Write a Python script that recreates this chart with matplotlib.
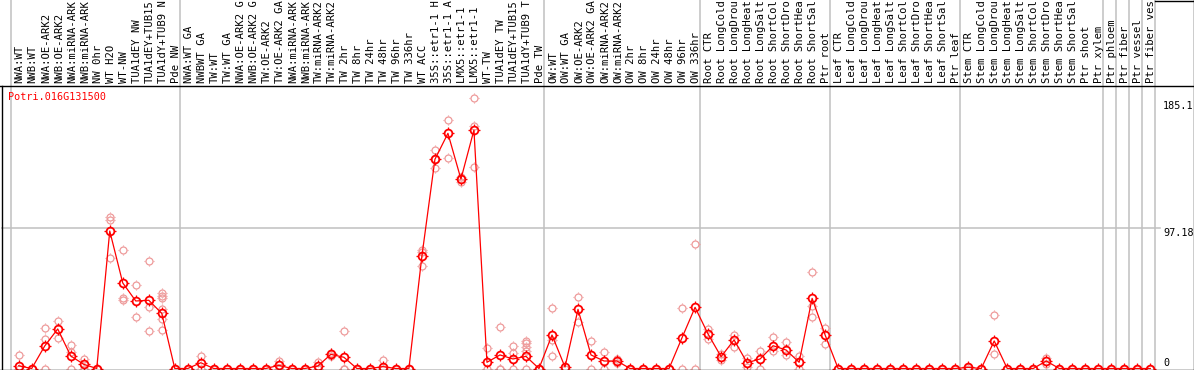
#!/usr/bin/env python3

import matplotlib
matplotlib.use("Agg")
import matplotlib.pyplot as plt
import matplotlib.transforms as mtransforms
from matplotlib.path import Path
from matplotlib.lines import Line2D

W, H = 1194, 370

# sample labels, one per column
labels = [
    "NWA:WT", "NWB:WT", "NWA:OE-ARK2", "NWB:OE-ARK2", "NWA:miRNA-ARK2",
    "NWB:miRNA-ARK2", "NW 0hr", "WT H2O", "WT-NW", "TUA1dEY NW",
    "TUA1dEY+TUB15 NW", "TUA1dY+TUB9 NW", "Pde NW",
    "NWA:WT GA", "NWBWT GA", "TW:WT", "TW:WT GA", "NWA:OE-ARK2 GA",
    "NWB:OE-ARK2 GA", "TW:OE-ARK2", "TW:OE-ARK2 GA", "NWA:miRNA-ARK2 GA",
    "NWB:miRNA-ARK2 GA", "TW:miRNA-ARK2", "TW:miRNA-ARK2 GA", "TW 2hr",
    "TW 8hr", "TW 24hr", "TW 48hr", "TW 96hr", "TW 336hr", "WT ACC",
    "35S::etr1-1 H2O", "35S::etr1-1 ACC", "LMX5::etr1-1 H2O",
    "LMX5::etr1-1 ACC", "WT-TW", "TUA1dEY TW", "TUA1dEY+TUB15 TW",
    "TUA1dY+TUB9 TW", "Pde TW",
    "OW:WT", "OW:WT GA", "OW:OE-ARK2", "OW:OE-ARK2 GA", "OW:miRNA-ARK2",
    "OW:miRNA-ARK2 GA", "OW 2hr", "OW 8hr", "OW 24hr", "OW 48hr", "OW 96hr",
    "OW 336hr",
    "Root CTR", "Root LongCold", "Root LongDrought", "Root LongHeat",
    "Root LongSalt", "Root ShortCold", "Root ShortDrought", "Root ShortHeat",
    "Root ShortSalt", "Ptr root",
    "Leaf CTR", "Leaf LongCold", "Leaf LongDrought", "Leaf LongHeat",
    "Leaf LongSalt", "Leaf ShortCold", "Leaf ShortDrought", "Leaf ShortHeat",
    "Leaf ShortSalt", "Ptr leaf",
    "Stem CTR", "Stem LongCold", "Stem LongDrought", "Stem LongHeat",
    "Stem LongSalt", "Stem ShortCold", "Stem ShortDrought", "Stem ShortHeat",
    "Stem ShortSalt", "Ptr shoot", "Ptr xylem",
    "Ptr phloem", "Ptr fiber", "Ptr vessel", "Ptr fiber vessel",
]

# index of first column of each group (plus the end)
group_starts = [0, 13, 41, 53, 63, 73, 84, 85, 86, 87, 88]

means = [
    1.9, 0, 15.6, 27.4, 8.7, 2.9, 0, 95.3, 59.3, 46.8, 47.3, 38.2, 0,
    0, 4, 0, 0, 0, 0, 0, 2.2, 0, 0, 1.7, 9.8, 7.8, 0, 0, 1.3, 0, 0, 78,
    145, 163, 131.3, 165.3, 4.3, 9.4, 6.6, 8.4, 0,
    23.2, 1, 41, 9.4, 5.2, 5.2, 0, 0, 0, 0, 21.4, 42.4,
    23.9, 8.2, 19.8, 4, 6.6, 15.8, 12.8, 4.3, 48.6, 23.2,
    0, 0, 0, 0, 0, 0, 0, 0, 0, 0,
    0.8, 0, 19.1, 0, 0, 0, 5.2, 0, 0, 0, 0,
    0, 0, 0, 0,
]

replicates = [
    [9.1, 0], [0], [27.9, 20.4, 0], [32.9, 21.4], [16, 11.7, 0], [6.4, 0],
    [0], [105.2, 102.9, 76.4], [81.9, 48.6, 47.5], [57.9, 35.5],
    [74.3, 42.4, 26], [52.1, 50.3, 48.6, 41, 34.3, 26.7], [0],
    [0], [8.7, 0], [0], [0], [0], [0], [0], [5.4, 0], [0], [0], [4.7, 0],
    [11, 8.6], [26, 0, 0], [0], [0], [5.9, 0], [0], [0], [82.1, 81, 71],
    [151.4, 138.8, 145], [172, 145.7], [129.5, 132.5], [187.3, 168.3, 139.5],
    [14, 0], [28.6, 0, 0], [15.6, 10.5, 0], [19.3, 17.5, 15.1, 12.3, 0],
    [0],
    [41.7, 19.8, 8.7], [0], [49.4, 32.5], [19.1, 0], [11.2, 0], [6.4, 4],
    [0], [0], [0], [0], [41.7, 0], [86.1, 0],
    [27.2, 20.2], [5.9, 9.8], [23.2, 14.7], [7.1, 1], [12.3, 0],
    [21.6, 12.3], [18.6, 9.4], [8.7, 0], [66.7, 43.3, 35.5], [27.9, 16.8],
    [0], [0], [0], [0], [0], [0], [0], [0], [0], [0],
    [1, 0], [0], [36.9, 9.8], [0], [0], [0], [7, 3], [0], [0], [0], [0],
    [0], [0], [0], [0],
]

gene = "Potri.016G131500"
ytick_vals = [185.1, 97.18, 0]

# four little ticks around each circle marker
ticks = Path(
    [[0, 1], [0, 1.45], [0, -1], [0, -1.45], [1, 0], [1.45, 0], [-1, 0], [-1.45, 0]],
    [Path.MOVETO, Path.LINETO] * 4,
)

fig = plt.figure(figsize=(W / 100, H / 100), dpi=100)
fig.patch.set_facecolor("white")

top, bot = 85, 369.5
ax = fig.add_axes([1 / W, 1 - bot / H, 1192 / W, (bot - top) / H])
for s in ax.spines.values():
    s.set_visible(False)
ax.set_xticks([])
ax.set_yticks([])

step = 13.007
x0 = 18.7
ax.set_xlim(-(x0 - 1) / step, (1193 - x0) / step)
yscale = 1.4427
ax.set_ylim(-(bot - 368.5) / yscale, (368.5 - top) / yscale)

pink = "#ee9a9a"
xs = list(range(len(means)))
for i, reps in enumerate(replicates):
    rx = [i] * len(reps)
    ax.plot(rx, reps, linestyle="none", marker="o", markersize=5.0,
            markerfacecolor="none", markeredgecolor=pink, markeredgewidth=0.9,
            zorder=3)
    ax.plot(rx, reps, linestyle="none", marker=ticks, markersize=7.4,
            markeredgecolor=pink, markeredgewidth=0.8, zorder=3)
ax.plot(xs, means, color="red", linewidth=0.9, zorder=4)
ax.plot(xs, means, linestyle="none", marker="o", markersize=5.6,
        markerfacecolor="none", markeredgecolor="red", markeredgewidth=1.3, zorder=5)
ax.plot(xs, means, linestyle="none", marker=ticks, markersize=8.2,
        markeredgecolor="red", markeredgewidth=0.9, zorder=5)

# midline grid
ax.axhline(97.18, xmax=(1160 - 1) / 1192, color="#c0c0c0", linewidth=1.1, zorder=1)

# group separators across header and plot
blend = mtransforms.blended_transform_factory(ax.transData, fig.transFigure)
for b in group_starts:
    ax.plot([b - 0.62, b - 0.62], [0, 1], transform=blend, color="#c0c0c0",
            linewidth=1.1, clip_on=False, zorder=1)

mono = "DejaVu Sans Mono"
lab_y = 1 - 83 / H
for i, lab in enumerate(labels):
    # header only has room for about 13 characters
    ax.text(i + 0.08, lab_y, lab[:13], transform=blend, rotation=90, ha="center",
            va="bottom", fontsize=7.6, family=mono, color="black", clip_on=False)

fig.text(8 / W, 1 - 97 / H, gene, ha="left", va="center", fontsize=7.3,
         family=mono, color="red")

tx = (1163 - 1) / 1192
ytrans = mtransforms.blended_transform_factory(ax.transAxes, ax.transData)
for v in ytick_vals:
    va = "bottom" if v == 0 else "top"
    ax.text(tx, v, "%g" % v, transform=ytrans, ha="left", va=va, fontsize=7.3,
            family=mono, color="black", clip_on=False)


def fline(xa, ya, xb, yb):
    fig.add_artist(Line2D([xa / W, xb / W], [1 - ya / H, 1 - yb / H],
                          transform=fig.transFigure, color="black", linewidth=1.0))


fline(0, 85.5, W, 85.5)
fline(1.5, 85.5, 1.5, H)
fline(0, 369.5, W, 369.5)
fline(1193.5, 0, 1193.5, H)
fline(1155, 0.5, W, 0.5)

fig.savefig("out.png", dpi=100)
plt.close("all")
